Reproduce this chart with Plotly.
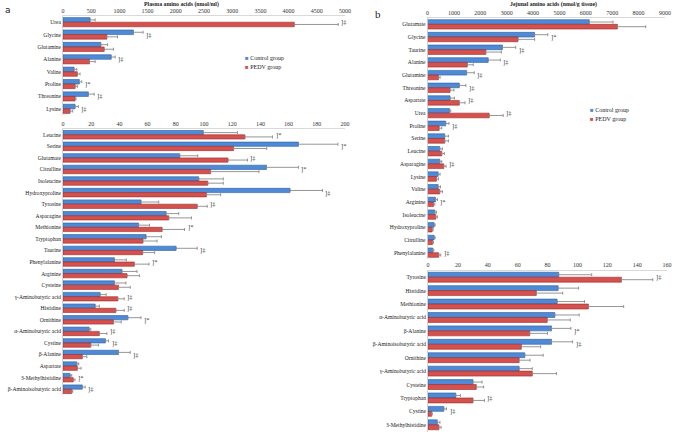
import plotly.graph_objects as go

# ---------------- Panel a: plasma amino acids (nmol/ml) ----------------
a1_cats = ["Urea", "Glycine", "Glutamine", "Alanine", "Valine", "Proline", "Threonine", "Lysine"]
a1_ctrl = [480, 1250, 670, 855, 196, 290, 450, 214]
a1_ctrl_err = [90, 170, 120, 70, 48, 43, 102, 58]
a1_pedv = [4100, 777, 730, 470, 255, 214, 214, 125]
a1_pedv_err = [780, 189, 165, 100, 47, 41, 17, 47]
a1_sig = ["‡", "‡", "", "‡", "", "*", "‡", "‡"]

a2_cats = ["Leucine", "Serine", "Glutamate", "Citrulline", "Isoleucine", "Hydroxyproline",
           "Tyrosine", "Asparagine", "Methionine", "Tryptophan", "Taurine", "Phenylalanine",
           "Arginine", "Cysteine", "γ-Aminobutyric acid", "Histidine", "Ornithine",
           "α-Aminobutyric acid", "Cystine", "β-Alanine", "Aspartate", "3-Methylhistidine",
           "β-Aminoisobutyric acid"]
a2_ctrl = [99.5, 167, 82.8, 144.3, 96.3, 161, 55.3, 73.1, 53.6, 58.9, 80.2, 36.5,
           41.8, 36.5, 26.3, 22.8, 46, 18.5, 30.1, 39.4, 9.8, 5, 13.7]
a2_ctrl_err = [24.2, 28, 12.8, 22.7, 17.4, 23, 12.6, 9, 7.8, 10.9, 15, 8.4,
               10.7, 8.1, 4.3, 3, 9.3, 1.2, 2.2, 8.3, 1.4, 1.2, 2]
a2_pedv = [129, 121, 117, 104.7, 102.7, 101.8, 95.2, 75, 70.3, 56.7, 56.5, 50.6,
           45.4, 39.4, 38.9, 37.5, 35.8, 25.8, 19.7, 13.7, 10.2, 7.3, 6.2]
a2_pedv_err = [19.6, 23.5, 13.8, 34.3, 11, 10, 7.1, 16.1, 15.9, 10, 8.5, 10.4,
               8.9, 8.3, 4.5, 5.9, 5.5, 5.3, 5.4, 3.2, 2.6, 1.2, 0.7]
a2_sig = ["*", "*", "‡", "*", "", "‡", "‡", "", "*", "", "‡", "*",
          "", "", "‡", "‡", "*", "‡", "‡", "‡", "", "*", "‡"]

# ---------------- Panel b: jejunal amino acids (nmol/g tissue) ----------------
b1_cats = ["Glutamate", "Glycine", "Taurine", "Alanine", "Glutamine", "Threonine", "Aspartate",
           "Urea", "Proline", "Serine", "Leucine", "Asparagine", "Lysine", "Valine",
           "Arginine", "Isoleucine", "Hydroxyproline", "Citrulline", "Phenylalanine"]
b1_ctrl = [6130, 4058, 2840, 2300, 1482, 1206, 854, 829, 691, 653, 465, 465, 402, 402,
           302, 276, 251, 251, 201]
b1_ctrl_err = [900, 500, 500, 460, 290, 250, 165, 50, 125, 140, 100, 75, 75, 90,
               75, 63, 38, 38, 38]
b1_pedv = [7200, 3430, 2210, 1508, 415, 854, 1206, 2337, 440, 653, 540, 616, 339, 465,
           226, 314, 176, 188, 427]
b1_pedv_err = [1070, 630, 590, 226, 62, 150, 215, 530, 100, 140, 100, 88, 76, 100,
               50, 63, 38, 38, 76]
b1_sig = ["", "*", "‡", "‡", "‡", "‡", "‡", "‡", "‡", "", "", "‡", "", "",
          "*", "", "", "", "‡"]

b2_cats = ["Tyrosine", "Histidine", "Methionine", "α-Aminobutyric acid", "β-Alanine",
           "β-Aminoisobutyric acid", "Ornithine", "γ-Aminobutyric acid", "Cysteine",
           "Tryptophan", "Cystine", "3-Methylhistidine"]
b2_ctrl = [87.5, 87.1, 86.4, 84.9, 82.7, 82.7, 64.8, 61, 30.1, 18.6, 10.6, 6.2]
b2_ctrl_err = [22.1, 13.7, 18.4, 16.3, 13, 14.1, 12.3, 8.8, 6.1, 3.1, 1.8, 1.8]
b2_pedv = [129.5, 72.5, 107.4, 79.8, 68.1, 62.5, 61, 69.8, 32.3, 30.1, 2.4, 7.3]
b2_pedv_err = [21, 17.7, 23.6, 15.4, 11.9, 12.9, 7.3, 16.2, 5, 7.7, 0.5, 1.5]
b2_sig = ["‡", "", "", "", "*", "‡", "", "", "", "‡", "‡", ""]

series_names = ["Control group", "PEDV group"]
CTRL_COLOR = "#4f8ad6"
CTRL_LINE = "#2a5d9e"
PEDV_COLOR = "#d4514e"
PEDV_LINE = "#9e2a28"
ERR_COLOR = "#8a8a8a"
FONT = "Liberation Serif"

fig = go.Figure()

panels = [
    ("x", "y", a1_cats, a1_ctrl, a1_ctrl_err, a1_pedv, a1_pedv_err, a1_sig),
    ("x2", "y2", a2_cats, a2_ctrl, a2_ctrl_err, a2_pedv, a2_pedv_err, a2_sig),
    ("x3", "y3", b1_cats, b1_ctrl, b1_ctrl_err, b1_pedv, b1_pedv_err, b1_sig),
    ("x4", "y4", b2_cats, b2_ctrl, b2_ctrl_err, b2_pedv, b2_pedv_err, b2_sig),
]

annotations = []
for xa, ya, cats, ctrl, cerr, pedv, perr, sig in panels:
    fig.add_trace(go.Bar(
        y=cats, x=ctrl, orientation="h", name=series_names[0],
        marker=dict(color=CTRL_COLOR, line=dict(color=CTRL_LINE, width=0.6)),
        error_x=dict(type="data", array=cerr, symmetric=False, arrayminus=[0] * len(cerr),
                     color=ERR_COLOR, thickness=0.9, width=1.5),
        xaxis=xa, yaxis=ya, showlegend=False, cliponaxis=False, hoverinfo="skip",
    ))
    fig.add_trace(go.Bar(
        y=cats, x=pedv, orientation="h", name=series_names[1],
        marker=dict(color=PEDV_COLOR, line=dict(color=PEDV_LINE, width=0.6)),
        error_x=dict(type="data", array=perr, symmetric=False, arrayminus=[0] * len(perr),
                     color=ERR_COLOR, thickness=0.9, width=1.5),
        xaxis=xa, yaxis=ya, showlegend=False, cliponaxis=False, hoverinfo="skip",
    ))
    for c, v1, e1, v2, e2, s in zip(cats, ctrl, cerr, pedv, perr, sig):
        if s:
            annotations.append(dict(
                x=max(v1 + e1, v2 + e2), y=c, xref=xa, yref=ya, text="]" + s,
                showarrow=False, xanchor="left", yanchor="middle", xshift=1,
                font=dict(family=FONT, size=6.5, color="#333333"),
            ))

W, H = 673, 432


def xdom(l, r):
    return [l / W, r / W]


def ydom(t, b):
    return [1 - b / H, 1 - t / H]


xcommon = dict(side="top", showgrid=False, zeroline=False, showline=True, linecolor="#d0d0d0",
               linewidth=0.8, ticks="", automargin=False,
               tickfont=dict(family=FONT, size=6, color="#333333"), fixedrange=True)
ycommon = dict(type="category", showgrid=False, zeroline=False, showline=True,
               linecolor="#c8c8c8", linewidth=0.8, ticks="", automargin=False,
               tickfont=dict(family=FONT, size=5.6, color="#222222"), fixedrange=True)


def yrange(n):
    return [n - 0.5, -0.5]


fig.update_layout(
    width=W, height=H,
    margin=dict(l=0, r=0, t=0, b=0, autoexpand=False),
    paper_bgcolor="white", plot_bgcolor="white",
    barmode="group", bargap=0.26, bargroupgap=0.0,
    showlegend=False, hovermode=False, dragmode=False,
    font=dict(family=FONT, color="#222222"),
    xaxis=dict(domain=xdom(63, 345), range=[0, 5000], dtick=500, anchor="y", **xcommon),
    yaxis=dict(domain=ydom(16, 115), range=yrange(len(a1_cats)), anchor="x",
               categoryorder="array", categoryarray=a1_cats, **ycommon),
    xaxis2=dict(domain=xdom(63, 345), range=[0, 200], dtick=20, anchor="y2", **xcommon),
    yaxis2=dict(domain=ydom(129, 395), range=yrange(len(a2_cats)), anchor="x2",
                categoryorder="array", categoryarray=a2_cats, **ycommon),
    xaxis3=dict(domain=xdom(427.5, 665), range=[0, 9000], dtick=1000, anchor="y3", **xcommon),
    yaxis3=dict(domain=ydom(18, 259), range=yrange(len(b1_cats)), anchor="x3",
                categoryorder="array", categoryarray=b1_cats, **ycommon),
    xaxis4=dict(domain=xdom(428, 667), range=[0, 160], dtick=20, anchor="y4", **xcommon),
    yaxis4=dict(domain=ydom(270.5, 431.5), range=yrange(len(b2_cats)), anchor="x4",
                categoryorder="array", categoryarray=b2_cats, **ycommon),
)


def legend_entries(x_px, y_px):
    out = []
    for i, (name, col) in enumerate(zip(series_names, [CTRL_COLOR, PEDV_COLOR])):
        out.append(dict(
            text='<span style="color:%s">■</span> %s' % (col, name),
            x=x_px / W, y=1 - (y_px + 9 * i) / H, xref="paper", yref="paper",
            showarrow=False, xanchor="left", yanchor="middle",
            font=dict(family=FONT, size=6, color="#222222"),
        ))
    return out


annotations += legend_entries(243, 58)
annotations += legend_entries(588, 110)

annotations += [
    dict(text="<b>Plasma amino acids (nmol/ml)</b>", x=181 / W, y=1 - 4 / H, xref="paper",
         yref="paper", showarrow=False, xanchor="center", yanchor="middle",
         font=dict(family=FONT, size=5.8, color="#222222")),
    dict(text="<b>Jejunal amino acids (nmol/g tissue)</b>", x=553 / W, y=1 - 4 / H,
         xref="paper", yref="paper", showarrow=False, xanchor="center", yanchor="middle",
         font=dict(family=FONT, size=5.8, color="#222222")),
    dict(text="a", x=3 / W, y=1 - 10 / H, xref="paper", yref="paper", showarrow=False,
         xanchor="left", yanchor="middle", font=dict(family="DejaVu Sans", size=9, color="#222222")),
    dict(text="b", x=373 / W, y=1 - 14 / H, xref="paper", yref="paper", showarrow=False,
         xanchor="left", yanchor="middle", font=dict(family=FONT, size=11, color="#222222")),
]
fig.update_layout(annotations=annotations)

fig.write_html("out.html", config={"displayModeBar": False, "staticPlot": True},
               post_script="document.body.style.margin='0';document.body.style.padding='0';")
